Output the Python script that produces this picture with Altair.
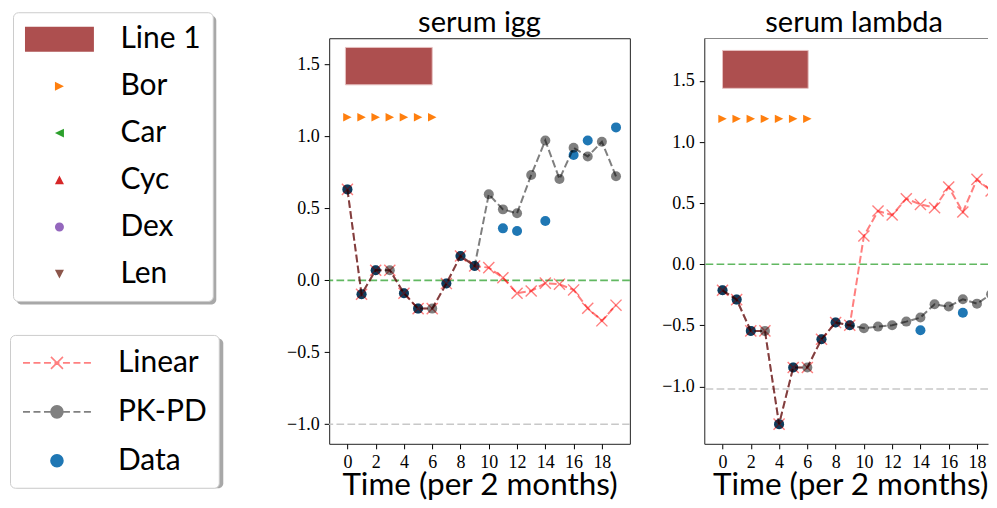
import altair as alt
import pandas as pd

# ---------------- data ----------------
TIME = list(range(20))

IGG_LINEAR = [0.633, -0.096, 0.071, 0.071, -0.089, -0.196, -0.196, -0.022, 0.170, 0.100,
              0.089, 0.019, -0.089, -0.073, -0.019, -0.026, -0.066, -0.193, -0.281, -0.172]
IGG_PKPD = [0.633, -0.096, 0.071, 0.071, -0.089, -0.196, -0.196, -0.022, 0.170, 0.100,
            0.599, 0.494, 0.467, 0.733, 0.973, 0.705, 0.922, 0.862, 0.964, 0.724]
IGG_DATA_T = [0, 1, 2, 4, 5, 7, 8, 9, 11, 12, 14, 16, 17, 19]
IGG_DATA_V = [0.633, -0.096, 0.071, -0.089, -0.196, -0.022, 0.170, 0.100,
              0.362, 0.344, 0.413, 0.872, 0.973, 1.064]

LAMBDA_LINEAR = [-0.213, -0.289, -0.545, -0.545, -1.308, -0.845, -0.845, -0.613, -0.477, -0.499,
                 0.231, 0.436, 0.403, 0.537, 0.490, 0.463, 0.632, 0.428, 0.695, 0.600]
LAMBDA_PKPD = [-0.213, -0.289, -0.545, -0.545, -1.308, -0.845, -0.845, -0.613, -0.477, -0.499,
               -0.523, -0.510, -0.499, -0.469, -0.436, -0.327, -0.346, -0.286, -0.322, -0.245]
LAMBDA_DATA_T = [0, 1, 2, 4, 5, 7, 8, 9, 14, 17]
LAMBDA_DATA_V = [-0.213, -0.289, -0.545, -1.308, -0.845, -0.613, -0.477, -0.499, -0.540, -0.396]

# treatment bar ("Line 1") and Bor markers
IGG_BAR_X = [-0.14, 6.0]
IGG_BAR_Y = [1.36, 1.62]
LAMBDA_BAR_X = [0.0, 6.06]
LAMBDA_BAR_Y = [1.44, 1.75]
BOR_T = [0, 1, 2, 3, 4, 5, 6]
IGG_BOR_Y = 1.135
LAMBDA_BOR_Y = 1.19

# reference lines
IGG_LOWER = -1.0
LAMBDA_LOWER = -1.02

TREATMENTS = ["Line 1", "Bor", "Car", "Cyc", "Dex", "Len"]
TREAT_COLORS = ["#ad4f4f", "#ff7f0e", "#2ca02c", "#d62728", "#9467bd", "#8c564b"]
MODELS = ["Linear", "PK-PD", "Data"]
MODEL_COLORS = ["#ff8080", "#808080", "#1f77b4"]

X_TICKS = list(range(0, 19, 2))
Y_TICKS = [-1.0, -0.5, 0.0, 0.5, 1.0, 1.5]
X_DOMAIN_1 = [-1.29, 19.98]
X_DOMAIN_2 = [-1.29, 18.78]
IGG_Y_DOMAIN = [-1.136, 1.684]
LAMBDA_Y_DOMAIN = [-1.469, 1.850]

# ---------------- styling ----------------
SANS = "Lato"
SERIF = "Liberation Serif"
DASH = [7.7, 3.3]
PW1, PW2, PH = 301, 284, 406
FRAME = "#222222"

TRI_RIGHT = "M-1,-1L1,0L-1,1Z"
X_MARK = "M-1,-1L1,1M-1,1L1,-1"


def circ(r):
    return f"M-{r},0A{r},{r},0,1,0,{r},0A{r},{r},0,1,0,-{r},0Z"


# legend symbols: symbolSize 900 -> 15 px per path unit
U = 15.0
LEG1_PATHS = [
    f"M-{34.5/U:.3f},-{12.5/U:.3f}H{34.5/U:.3f}V{12.5/U:.3f}H-{34.5/U:.3f}Z",
    "M-0.3,-0.3L0.3,0L-0.3,0.3Z",
    "M0.3,-0.3L-0.3,0L0.3,0.3Z",
    "M-0.3,0.28L0,-0.3L0.3,0.28Z",
    circ(0.3),
    "M-0.3,-0.28L0,0.3L0.3,-0.28Z",
]
_segs = [(-34, -27), (-23.5, -16.5), (-13, -6), (-2.5, 2.5), (6, 13), (16.5, 23.5), (27, 34)]
LDASH = "".join(f"M{a/U:.3f},0H{b/U:.3f}" for a, b in _segs)
LEG2_PATHS = [
    LDASH + "M-0.4,-0.4L0.4,0.4M-0.4,0.4L0.4,-0.4",
    LDASH + circ(0.4),
    circ(0.4),
]


def x_enc(field, xdom, title_x=None, frame=False):
    kw = dict(
        values=X_TICKS, title="Time (per 2 months)", labelFont=SERIF, labelFontSize=18,
        labelColor="black", tickColor="black", tickSize=5, labelPadding=5,
        domain=frame, domainColor=FRAME, domainWidth=1, grid=False,
        titleFont=SANS, titleFontSize=31.5, titleFontWeight="normal", titleColor="black",
        titlePadding=-2, labelFlush=False, labelOverlap=False,
    )
    if title_x is not None:
        kw["titleX"] = title_x
    return alt.X(field, type="quantitative",
                 scale=alt.Scale(domain=xdom, nice=False, zero=False), axis=alt.Axis(**kw))


def y_enc(field, domain, frame=False):
    return alt.Y(
        field,
        type="quantitative",
        scale=alt.Scale(domain=domain, nice=False, zero=False),
        axis=alt.Axis(
            values=Y_TICKS, format=".1f", labelExpr="replace(datum.label, '-', '\u2212')",
            title=None, labelFont=SERIF, labelFontSize=18, labelColor="black",
            tickColor="black", tickSize=5, labelPadding=5,
            domain=frame, domainColor=FRAME, domainWidth=1, grid=False,
        ),
    )


def panel(title, linear, pkpd, dt, dv, bar_x, bar_y, bor_y, lower, xdom, ydom, width,
          open_right=False):
    X = lambda f: x_enc(f, xdom, title_x=146 if open_right else None, frame=open_right)
    Y = lambda f: y_enc(f, ydom, frame=open_right)
    clip = open_right

    lines_df = pd.DataFrame({"t": TIME, "linear": linear, "pkpd": pkpd})
    data_df = pd.DataFrame({"t": dt, "v": dv})
    bar_df = pd.DataFrame({"x0": [bar_x[0]], "x1": [bar_x[1]], "y0": [bar_y[0]], "y1": [bar_y[1]]})
    bor_df = pd.DataFrame({"t": BOR_T, "v": [bor_y] * len(BOR_T)})
    ref_df = pd.DataFrame({"y": [0.0, lower, ydom[1]], "kind": ["zero", "lower", "top"]})

    layers = []
    layers.append(alt.Chart(ref_df).transform_filter("datum.kind == 'zero'").mark_rule(
        color="#2ca02c", opacity=0.75, strokeWidth=1.6, strokeDash=DASH, clip=clip
    ).encode(y=Y("y")))
    layers.append(alt.Chart(ref_df).transform_filter("datum.kind == 'lower'").mark_rule(
        color="#c8c8c8", strokeWidth=1.6, strokeDash=DASH, clip=clip
    ).encode(y=Y("y")))
    if open_right:
        layers.append(alt.Chart(ref_df).transform_filter("datum.kind == 'top'").mark_rule(
            color=FRAME, strokeWidth=1, clip=True
        ).encode(y=Y("y")))

    layers.append(alt.Chart(bar_df).mark_rect(
        color="#ad4f4f", stroke="#e6c0c0", strokeWidth=1, clip=clip
    ).encode(x=X("x0"), x2="x1", y=Y("y0"), y2="y1"))
    layers.append(alt.Chart(bor_df).mark_point(
        shape=TRI_RIGHT, filled=True, size=72, color="#ff7f0e", opacity=1, clip=clip
    ).encode(x=X("t"), y=Y("v")))
    layers.append(alt.Chart(data_df).mark_circle(
        size=100, color="#1f77b4", opacity=1, clip=clip
    ).encode(x=X("t"), y=Y("v")))
    layers.append(alt.Chart(lines_df).mark_line(
        color="#ff0000", opacity=0.5, strokeWidth=2.0, strokeDash=DASH, clip=clip
    ).encode(x=X("t"), y=Y("linear")))
    layers.append(alt.Chart(lines_df).mark_point(
        shape=X_MARK, filled=False, size=123, color="#ff0000", opacity=0.5, strokeWidth=1.4, clip=clip
    ).encode(x=X("t"), y=Y("linear")))
    layers.append(alt.Chart(lines_df).mark_line(
        color="black", opacity=0.5, strokeWidth=2.0, strokeDash=DASH, clip=clip
    ).encode(x=X("t"), y=Y("pkpd")))
    layers.append(alt.Chart(lines_df).mark_circle(
        size=100, color="black", opacity=0.5, clip=clip
    ).encode(x=X("t"), y=Y("pkpd")))

    props = dict(
        width=width, height=PH,
        title=alt.TitleParams(
            title, font=SANS, fontSize=29, fontWeight="normal", color="black",
            offset=0, anchor="middle", dx=(8 if open_right else 0),
        ),
    )
    if open_right:
        props["view"] = alt.ViewBackground(stroke="transparent")
    return alt.layer(*layers).properties(**props)


p1 = panel("serum igg", IGG_LINEAR, IGG_PKPD, IGG_DATA_T, IGG_DATA_V,
           IGG_BAR_X, IGG_BAR_Y, IGG_BOR_Y, IGG_LOWER, X_DOMAIN_1, IGG_Y_DOMAIN, PW1)
p2 = panel("serum lambda", LAMBDA_LINEAR, LAMBDA_PKPD, LAMBDA_DATA_T, LAMBDA_DATA_V,
           LAMBDA_BAR_X, LAMBDA_BAR_Y, LAMBDA_BOR_Y, LAMBDA_LOWER, X_DOMAIN_2, LAMBDA_Y_DOMAIN,
           PW2, open_right=True)

# ---------------- legends (in an empty left panel) ----------------
L1X, L1Y = 4, -26
L2X, L2Y = 1, 297
SH = 3  # drop-shadow offset

base_leg = dict(orient="none", title=None, labelFont=SANS, labelFontSize=30,
                padding=12, cornerRadius=5, symbolSize=900)
leg1_geo = dict(rowPadding=17, symbolOffset=19.5, labelOffset=46)
leg2_geo = dict(rowPadding=18, symbolOffset=19, labelOffset=45)

legend1 = alt.Legend(legendX=L1X, legendY=L1Y, labelColor="black", fillColor="white",
                     strokeColor="#cccccc", symbolOpacity=1, symbolStrokeWidth=0,
                     **leg1_geo, **base_leg)
legend2 = alt.Legend(legendX=L2X, legendY=L2Y, labelColor="black", fillColor="white",
                     strokeColor="#cccccc", symbolOpacity=1, symbolStrokeWidth=1.6,
                     **leg2_geo, **base_leg)

# shadow boxes: same rows, no text, one invisible wide symbol per row spanning the entry
SHADOW1_PATH = f"M-{34.5/U:.3f},-1H{(176-34.5)/U:.3f}V1H-{34.5/U:.3f}Z"
SHADOW2_PATH = f"M-{34/U:.3f},-1H{(186-34)/U:.3f}V1H-{34/U:.3f}Z"
shadow1 = alt.Legend(legendX=L1X + SH, legendY=L1Y + SH, labelExpr="''",
                     fillColor="#a8a8a8", strokeColor="transparent", symbolOpacity=0,
                     symbolStrokeWidth=0, symbolType=SHADOW1_PATH, **leg1_geo, **base_leg)
shadow2 = alt.Legend(legendX=L2X + SH, legendY=L2Y + SH, labelExpr="''",
                     fillColor="#a8a8a8", strokeColor="transparent", symbolOpacity=0,
                     symbolStrokeWidth=0, symbolType=SHADOW2_PATH, **leg2_geo, **base_leg)

treat_df = pd.DataFrame({"treatment": TREATMENTS})
model_df = pd.DataFrame({"model": MODELS})

sh1 = alt.Chart(treat_df).transform_filter("false").mark_point(filled=True, opacity=1).encode(
    color=alt.Color("treatment:N", scale=alt.Scale(domain=TREATMENTS, range=["transparent"] * 6),
                    legend=shadow1),
)
sh2 = alt.Chart(model_df).transform_filter("false").mark_point(filled=True, opacity=1).encode(
    strokeDash=alt.StrokeDash("model:N", scale=alt.Scale(domain=MODELS, range=[[1, 0]] * 3),
                              legend=shadow2),
)
leg1 = alt.Chart(treat_df).transform_filter("false").mark_point(filled=True, opacity=1).encode(
    fill=alt.Fill("treatment:N", scale=alt.Scale(domain=TREATMENTS, range=TREAT_COLORS), legend=legend1),
    shape=alt.Shape("treatment:N", scale=alt.Scale(domain=TREATMENTS, range=LEG1_PATHS), legend=legend1),
)
leg2 = alt.Chart(model_df).transform_filter("false").mark_point(filled=True, opacity=1).encode(
    fill=alt.Fill("model:N", scale=alt.Scale(domain=MODELS, range=MODEL_COLORS), legend=legend2),
    stroke=alt.Stroke("model:N", scale=alt.Scale(domain=MODELS, range=MODEL_COLORS), legend=legend2),
    shape=alt.Shape("model:N", scale=alt.Scale(domain=MODELS, range=LEG2_PATHS), legend=legend2),
)
legend_panel = alt.layer(sh1, sh2, leg1, leg2).resolve_scale(
    fill="independent", shape="independent", stroke="independent",
    color="independent", strokeDash="independent",
).properties(width=246, height=PH, view=alt.ViewBackground(stroke="transparent"))

chart = alt.hconcat(legend_panel, p1, p2, spacing=74.5, bounds="flush").properties(
    padding=0
).configure_view(stroke=FRAME, strokeWidth=1)

chart.save("out.html", embed_options={"renderer": "svg", "actions": False})
